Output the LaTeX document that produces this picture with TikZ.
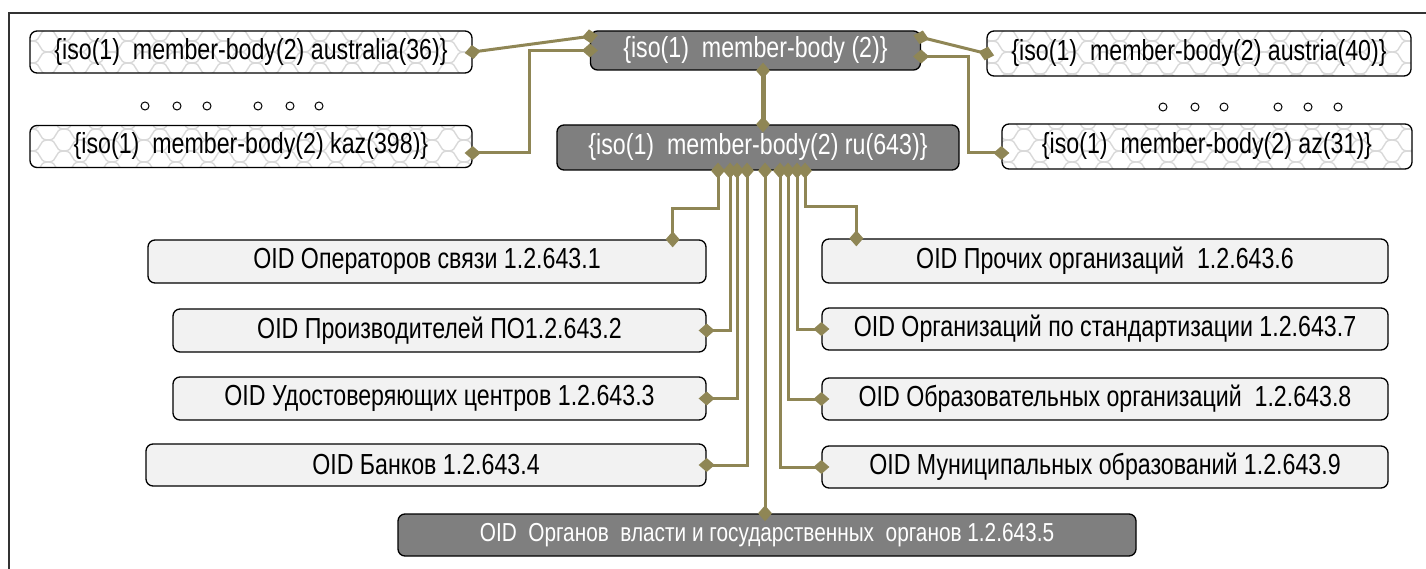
\documentclass[tikz,border=0pt]{standalone}
\usepackage{fontspec}
\setmainfont{Liberation Sans}[FakeStretch=0.8]
\usetikzlibrary{arrows.meta,patterns,calc}
\definecolor{olv}{RGB}{143,134,85}
\definecolor{lightbox}{RGB}{242,242,242}
\definecolor{darkbox}{RGB}{127,127,127}
\pgfdeclarepatternformonly{chain}{\pgfqpoint{-1pt}{-1pt}}{\pgfqpoint{33pt}{23pt}}{\pgfqpoint{32pt}{22pt}}{%
  \pgfsetlinewidth{1.4pt}%
  \pgfpathmoveto{\pgfqpoint{0pt}{0pt}}%
  \pgfpathcurveto{\pgfqpoint{11pt}{0pt}}{\pgfqpoint{5pt}{11pt}}{\pgfqpoint{16pt}{11pt}}%
  \pgfpathcurveto{\pgfqpoint{27pt}{11pt}}{\pgfqpoint{21pt}{22pt}}{\pgfqpoint{32pt}{22pt}}%
  \pgfpathmoveto{\pgfqpoint{0pt}{22pt}}%
  \pgfpathcurveto{\pgfqpoint{11pt}{22pt}}{\pgfqpoint{5pt}{11pt}}{\pgfqpoint{16pt}{11pt}}%
  \pgfpathcurveto{\pgfqpoint{27pt}{11pt}}{\pgfqpoint{21pt}{0pt}}{\pgfqpoint{32pt}{0pt}}%
  \pgfusepath{stroke}}
\tikzset{
  box/.style={draw=black, line width=1.3pt, rounded corners=7pt, inner sep=0pt,
    font=\fontsize{29}{32}\selectfont},
  lbox/.style={box, fill=lightbox},
  dbox/.style={box, fill=darkbox, text=white},
  pbox/.style={box, preaction={fill=white}, pattern=chain, pattern color=black!15},
  link/.style={draw=olv, line width=3pt,
    {Diamond[length=16pt,width=14pt]}-{Diamond[length=16pt,width=14pt]},
    shorten <=-8pt, shorten >=-8pt},
  thicklink/.style={link, line width=5pt},
  frame/.style={draw=black!80, line width=1.5pt},
  dotc/.style={draw=black, line width=1pt}
}
\begin{document}
\begin{tikzpicture}[x=1pt,y=-1pt]
\useasboundingbox (0,0) rectangle (1426,569);
\draw[frame] (9,569) -- (9,13) -- (1426,13);

% top level
\node[dbox, minimum width=330pt, minimum height=39pt] (mb) at (755.5,50.5) {\{iso(1)\ \ member-body (2)\}};
\node[dbox, minimum width=402pt, minimum height=45pt] (ru) at (758,147.5) {\{iso(1)\ \ member-body(2) ru(643)\}};
\node[pbox, minimum width=442pt, minimum height=42pt] (au) at (251,52) {\{iso(1)\ \ member-body(2) australia(36)\}};
\node[pbox, minimum width=442pt, minimum height=42pt] (kz) at (251,146.5) {\{iso(1)\ \ member-body(2) kaz(398)\}};
\node[pbox, minimum width=424pt, minimum height=45pt] (at) at (1199,53.5) {\{iso(1)\ \ member-body(2) austria(40)\}};
\node[pbox, minimum width=410pt, minimum height=45pt] (az) at (1207,146.5) {\{iso(1)\ \ member-body(2) az(31)\}};

% dots
\foreach \x in {145,177,207,258,290,319} \draw[dotc] (\x,106) circle (4);
\foreach \x in {1163,1195,1224,1278,1308,1338} \draw[dotc] (\x,107) circle (4);

% left column
\node[lbox, minimum width=558pt, minimum height=43pt] (op) at (427,261.5) {OID Операторов связи 1.2.643.1};
\node[lbox, minimum width=533pt, minimum height=43pt] (pr) at (439.5,330.5) {OID Производителей ПО1.2.643.2};
\node[lbox, minimum width=533pt, minimum height=43pt] (ud) at (439.5,398.5) {OID Удостоверяющих центров 1.2.643.3};
\node[lbox, minimum width=560pt, minimum height=42pt] (bk) at (426,465) {OID Банков 1.2.643.4};
% bottom
\node[dbox, minimum width=738pt, minimum height=42pt, font=\fontsize{26}{29}\selectfont] (og) at (767,535) {OID\ \ Органов\ \ власти и государственных\ \ органов 1.2.643.5};
% right column
\node[lbox, minimum width=566pt, minimum height=44pt] (pc) at (1105,261) {OID Прочих организаций\ \ 1.2.643.6};
\node[lbox, minimum width=566pt, minimum height=42pt] (st) at (1105,329) {OID Организаций по стандартизации 1.2.643.7};
\node[lbox, minimum width=566pt, minimum height=42pt] (ob) at (1105,399) {OID Образовательных организаций\ \ 1.2.643.8};
\node[lbox, minimum width=566pt, minimum height=42pt] (mu) at (1105,467) {OID Муниципальных образований 1.2.643.9};

% top connectors
\draw[link] (au.east) -- ([yshift=-6pt]mb.north west);
\draw[link] ([yshift=-6.5pt]kz.east) -- ++(57,0) |- (mb.west);
\draw[link] ([yshift=-7pt]mb.north east) -- (at.west);
\draw[link] ([yshift=-6pt]mb.east) -- ++(47,0) |- ([yshift=-6.5pt]az.west);
\draw[thicklink] ([xshift=7.5pt]mb.south) coordinate (t) -- (t |- ru.north);

% lower connectors
\draw[link] ([xshift=-40pt]ru.south) -- ++(0,38) -| ([xshift=-34pt]op.north east);
\draw[link] ([xshift=-28pt]ru.south) |- (pr.east);
\draw[link] ([xshift=-21pt]ru.south) |- (ud.east);
\draw[link] ([xshift=-11pt]ru.south) |- (bk.east);
\draw[link] ([xshift=7pt]ru.south) -- ([xshift=-2pt]og.north);
\draw[link] ([xshift=22pt]ru.south) |- (mu.west);
\draw[link] ([xshift=30pt]ru.south) |- (ob.west);
\draw[link] ([xshift=39pt]ru.south) |- (st.west);
\draw[link] ([xshift=47pt]ru.south) -- ++(0,36) -| ([xshift=35pt]pc.north west);
\end{tikzpicture}
\end{document}
